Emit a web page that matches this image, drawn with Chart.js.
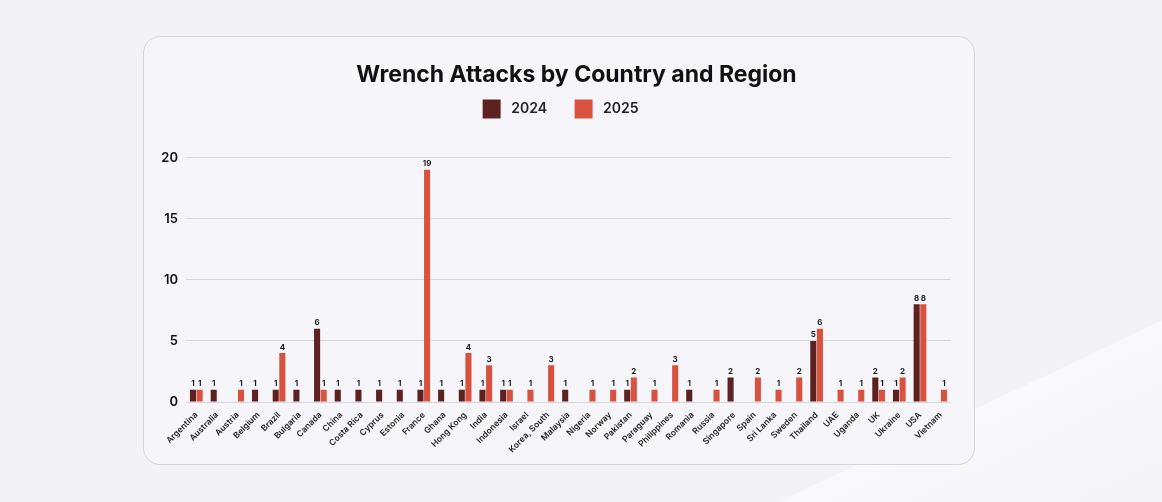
<!DOCTYPE html>
<html><head><meta charset="utf-8">
<script src="https://cdn.jsdelivr.net/npm/chart.js@4/dist/chart.umd.min.js"></script>
<style>
html,body{margin:0;padding:0;}
body{width:1162px;height:502px;background:#f3f3f7;position:relative;overflow:hidden;font-family:Inter,sans-serif;}
#streak{position:absolute;left:700px;top:539px;width:900px;height:400px;transform-origin:0 0;transform:rotate(-25.3deg);
background:linear-gradient(to bottom, rgba(255,255,255,0.5), rgba(255,255,255,0.15) 40%, rgba(255,255,255,0));}
#card{position:absolute;left:143px;top:36px;width:830px;height:427px;border:1px solid #d4d4da;border-radius:17px;background:#f6f6fa;}
#c{position:absolute;left:0;top:0;}
</style></head>
<body>
<div id="streak"></div>
<div id="card"><canvas id="c" width="830" height="427"></canvas></div>
<script>
const categories = ["Argentina","Australia","Austria","Belgium","Brazil","Bulgaria","Canada","China","Costa Rica","Cyprus","Estonia","France","Ghana","Hong Kong","India","Indonesia","Israel","Korea, South","Malaysia","Nigeria","Norway","Pakistan","Paraguay","Philippines","Romania","Russia","Singapore","Spain","Sri Lanka","Sweden","Thailand","UAE","Uganda","UK","Ukraine","USA","Vietnam"];
const values2024 = [1,1,null,1,1,1,6,1,1,1,1,1,1,1,1,1,null,null,1,null,null,1,null,null,1,null,2,null,null,null,5,null,null,2,1,8,null];
const values2025 = [1,null,1,null,4,null,1,null,null,null,null,19,null,4,3,1,1,3,null,1,1,2,1,3,null,1,null,2,1,2,6,1,1,1,2,8,1];
const yTicks = [0,5,10,15,20];

const valueLabels = {
  id:'valueLabels',
  afterDatasetsDraw(chart){
    const ctx = chart.ctx;
    ctx.save();
    ctx.font = '700 8px Inter, sans-serif';
    ctx.fillStyle = '#1c1c1c';
    ctx.textAlign = 'center';
    ctx.textBaseline = 'bottom';
    chart.data.datasets.forEach((ds,i)=>{
      chart.getDatasetMeta(i).data.forEach((bar,j)=>{
        const v = ds.data[j];
        if(v==null) return;
        ctx.fillText(String(v), bar.x, bar.y-2);
      });
    });
    ctx.restore();
  }
};
const headerLayout = {
  id:'headerLayout',
  beforeInit(chart){
    const fit = chart.legend.fit;
    chart.legend.fit = function(){ fit.call(this); this.height += 29; };
  },
  afterLayout(chart){
    const dx = 25;
    [chart.titleBlock, chart.legend].forEach(b=>{ if(b){ b.left += dx; b.right += dx; } });
  }
};

new Chart(document.getElementById('c'),{
  type:'bar',
  data:{labels:categories,datasets:[
    {label:'2024',data:values2024,backgroundColor:'#5e2121',borderWidth:0},
    {label:'2025',data:values2025,backgroundColor:'#d9513f',borderWidth:0}
  ]},
  options:{
    responsive:false,animation:false,
    layout:{padding:{left:8,right:23,top:24,bottom:8}},
    datasets:{bar:{categoryPercentage:0.64,barPercentage:0.92}},
    plugins:{
      title:{display:true,text:'Wrench Attacks by Country and Region',color:'#111',font:{family:'Inter',size:23,weight:'700'},padding:{top:0,bottom:1}},
      legend:{display:true,labels:{boxWidth:18,boxHeight:19,padding:10,color:'#222',font:{family:'Inter',size:14,weight:'600'},generateLabels(chart){
        const n = chart.data.datasets.length;
        return chart.data.datasets.map((d,i)=>({text:' '+d.label+(i===n-1?'         ':'     '),fillStyle:d.backgroundColor,strokeStyle:d.backgroundColor,lineWidth:0,datasetIndex:i,fontColor:'#222'}));
      }}},
      tooltip:{enabled:false}
    },
    scales:{
      x:{grid:{display:false},border:{display:false},
        ticks:{autoSkip:false,minRotation:45,maxRotation:45,color:'#1c1c1c',font:{family:'Inter',size:8.5,weight:'600'},padding:0},
        afterFit(s){s.height=54;}},
      y:{min:0,max:20,afterBuildTicks(s){s.ticks=yTicks.map(v=>({value:v}));},
        grid:{color:'#d6d6db',drawTicks:false},border:{display:false},
        ticks:{color:'#111',font:{family:'Inter',size:13,weight:'600'},padding:8},
        afterFit(s){s.width=34;}}
    }
  },
  plugins:[valueLabels,headerLayout]
});
</script>
</body></html>
